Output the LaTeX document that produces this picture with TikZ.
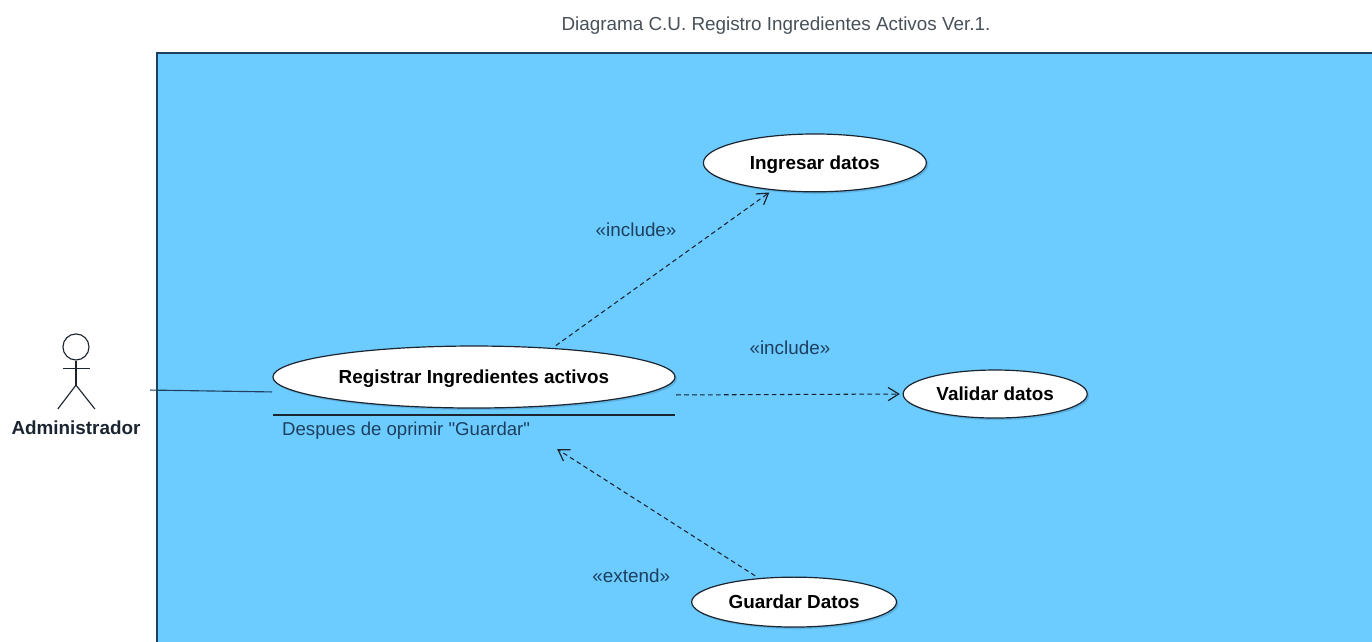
\documentclass[tikz,border=0pt]{standalone}
\usepackage{fontspec}
\setmainfont{Liberation Sans}[Ligatures=TeXOff]
\usetikzlibrary{shapes,shadows,arrows.meta}
\definecolor{panelblue}{HTML}{6CCBFF}
\definecolor{inkblue}{HTML}{1E3F5E}
\definecolor{inkdark}{HTML}{1A2530}
\tikzset{
  every node/.style={font=\fontsize{14.2}{17}\selectfont},
  usecase/.style={draw=inkdark, fill=white, ellipse, inner sep=0pt, outer sep=2.5pt, line width=0.9pt, text depth=0pt, font=\fontsize{14.2}{17}\selectfont\bfseries,
    drop shadow={shadow xshift=1.5pt, shadow yshift=-1.5pt, opacity=0.18, fill=inkblue}},
  stereo/.style={text=inkblue},
  dep/.style={draw=inkdark, dashed, line width=0.8pt, dash pattern=on 3.5pt off 2.5pt, ->, >={Straight Barb[length=8pt,width=10pt,line width=0.9pt]}},
  solidline/.style={draw=inkdark, line width=0.85pt}
}

\begin{document}
\begin{tikzpicture}
  \useasboundingbox (0,0) rectangle (36.3,16.96);
  \fill[white] (0,0) rectangle (36.3,16.96);
  \draw[fill=panelblue, draw=inkblue, line width=1pt] (4.15,15.56) rectangle (37,-1);

  \node[text=inkdark!80] (title) at (20.53,16.27) {Diagrama C.U. Registro Ingredientes Activos Ver.1.};

  % actor
  \node[draw=inkdark, circle, minimum size=0.69cm, inner sep=0pt, line width=0.85pt] (head) at (2.01,7.78) {};
  \coordinate (hip) at (2.01,6.77);
  \coordinate (armleft) at (1.67,7.22);
  \coordinate (armright) at (2.38,7.22);
  \coordinate (footleft) at (1.53,6.14);
  \coordinate (footright) at (2.51,6.14);
  \node[font=\fontsize{14.2}{17}\selectfont\bfseries, text=inkdark] (admin) at (2.01,5.64) {Administrador};
  \draw[solidline] (head) -- (hip);
  \draw[solidline] (armleft) -- (armright);
  \draw[solidline] (footleft) -- (hip) -- (footright);

  \node[usecase, minimum width=10.64cm, minimum height=1.64cm] (registrar) at (12.54,6.985) {Registrar Ingredientes activos};
  \node[usecase, minimum width=5.9cm, minimum height=1.53cm] (ingresar) at (21.56,12.65) {Ingresar datos};
  \node[usecase, minimum width=4.87cm, minimum height=1.27cm] (validar) at (26.33,6.535) {Validar datos};
  \node[usecase, minimum width=5.42cm, minimum height=1.32cm] (guardar) at (21.01,1.03) {Guardar Datos};

  \node[stereo] (include0) at (16.83,10.87) {«include»};
  \node[stereo] (include1) at (20.90,7.75) {«include»};
  \node[stereo] (extend0) at (16.70,1.72) {«extend»};

  % condition under the main use case
  \coordinate (ruleleft) at (7.22,5.98);
  \coordinate (ruleright) at (17.86,5.98);
  \node[stereo, anchor=west, inner sep=0pt, font=\fontsize{14}{17}\selectfont] (condition) at (7.46,5.56) {Despues de oprimir "Guardar"};
  \draw[solidline] (ruleleft) -- (ruleright);

  \coordinate (wirestart) at (3.97,6.64);
  \coordinate (wireend) at (7.20,6.59);
  \coordinate (regout) at (17.89,6.51);
  \coordinate (extpoint) at (14.74,5.08);

  \draw[draw=inkblue, line width=0.85pt] (wirestart) -- (wireend);
  \path (registrar.21.5) edge[dep] (ingresar.213);
  \path (regout) edge[dep] (validar.west);
  \path (guardar.146) edge[dep] (extpoint);
\end{tikzpicture}
\end{document}
